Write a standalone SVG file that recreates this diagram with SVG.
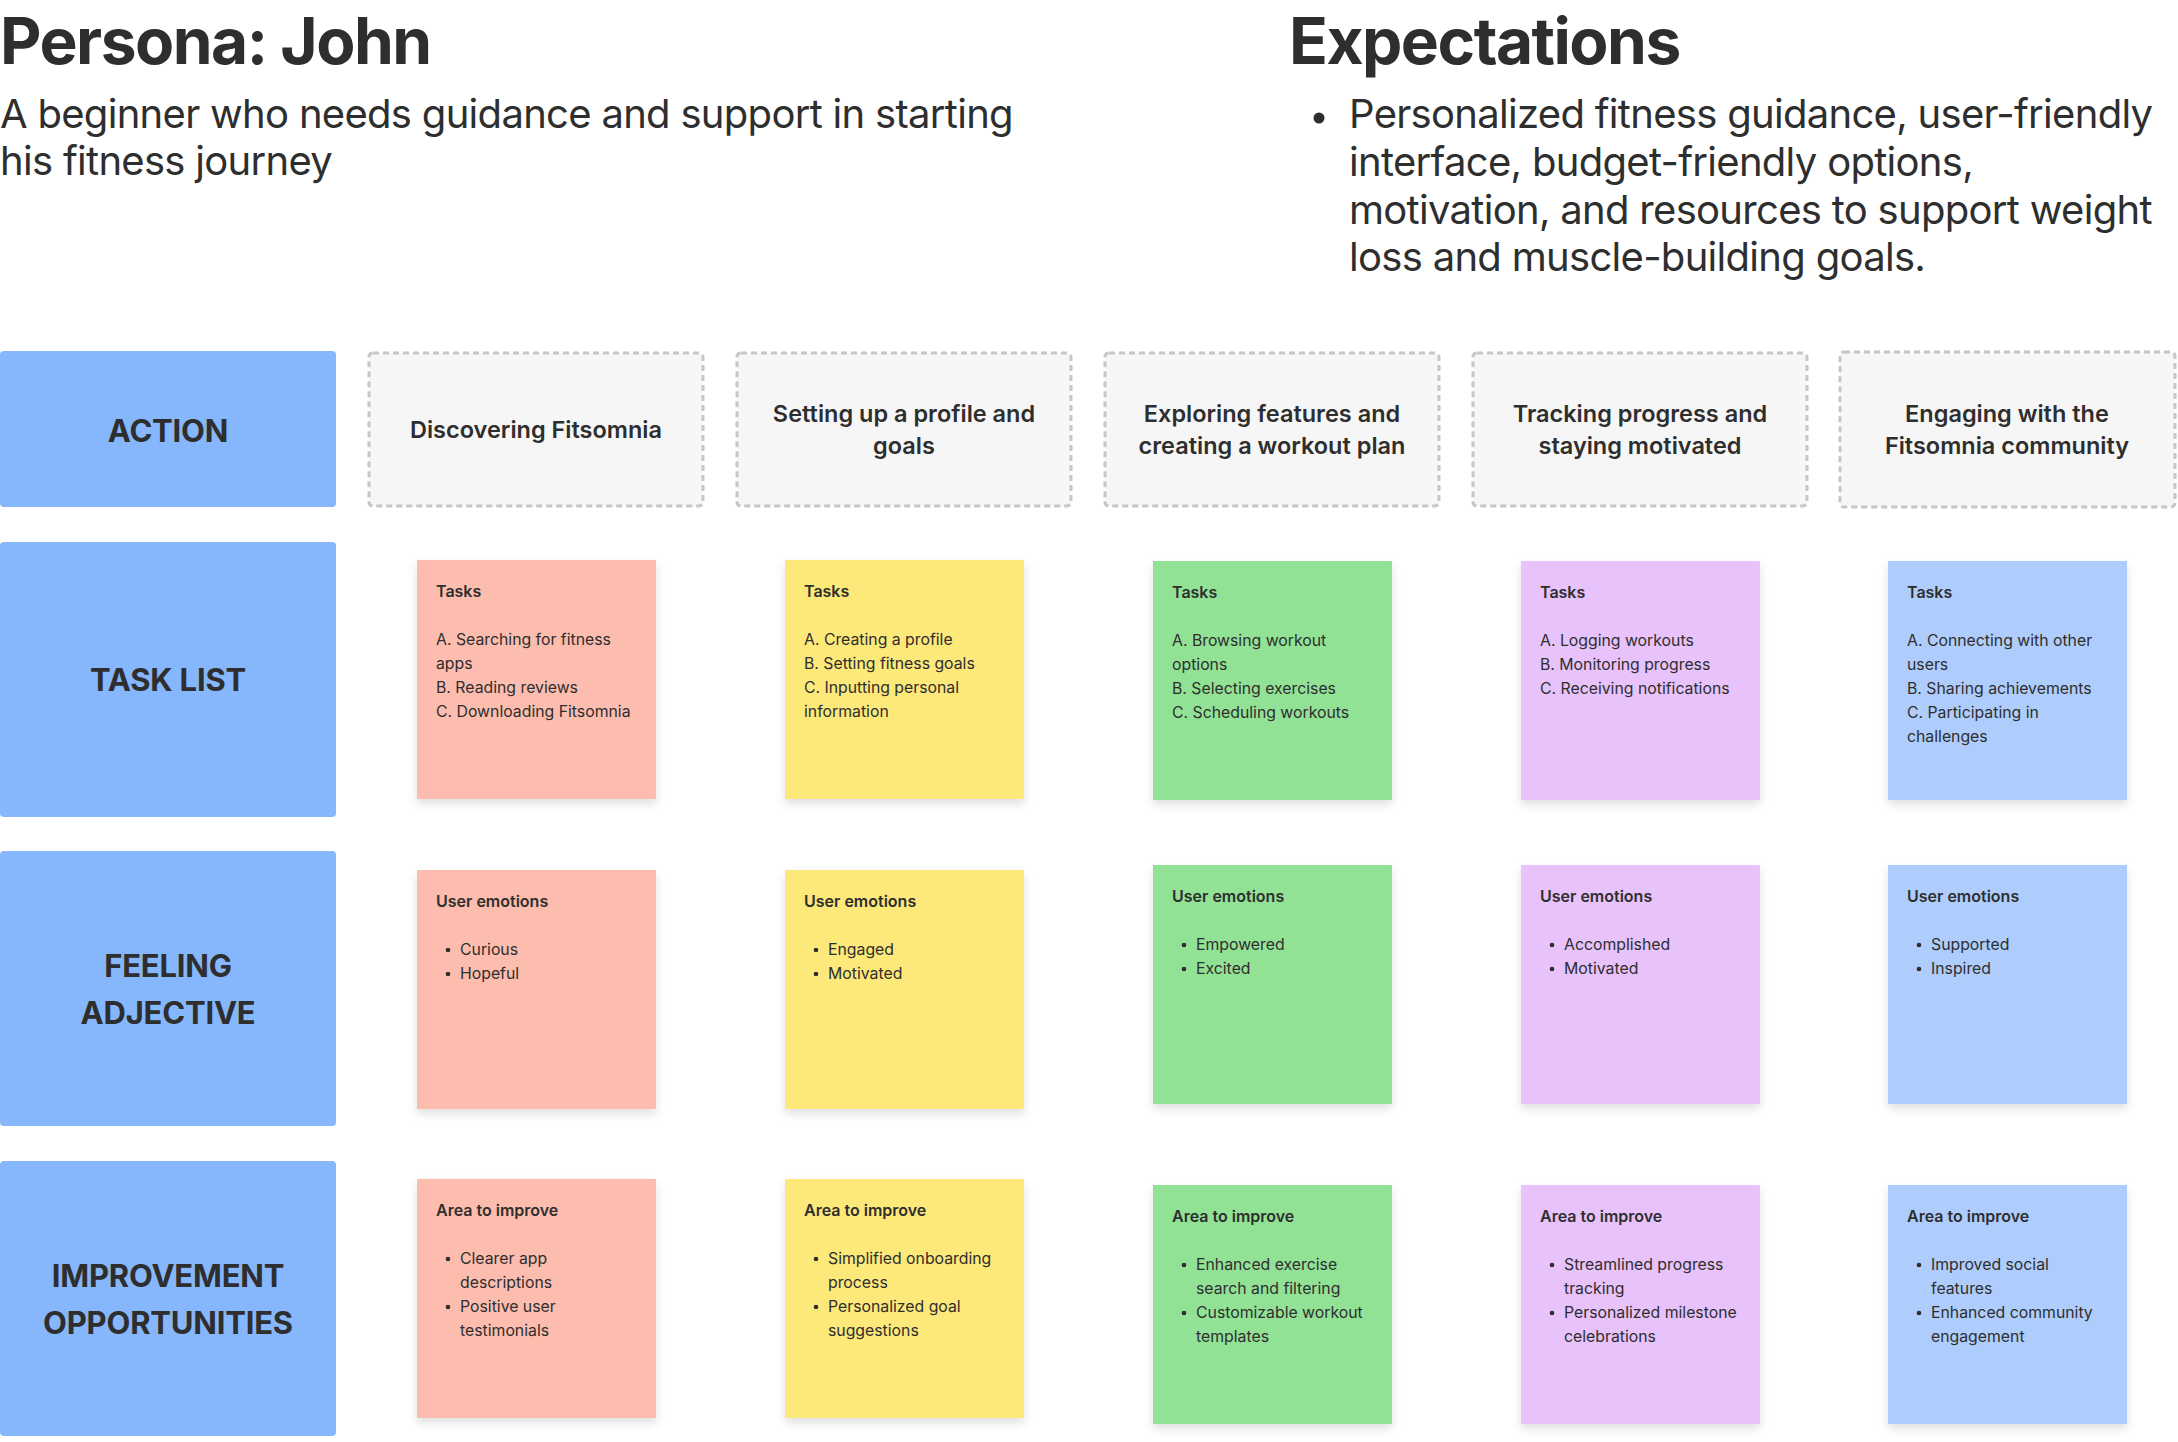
<svg xmlns="http://www.w3.org/2000/svg" width="2178" height="1442" viewBox="0 0 2178 1442">
<defs>
<filter id="sh" x="-10%" y="-10%" width="120%" height="130%">
<feDropShadow dx="0" dy="5" stdDeviation="5" flood-color="#000" flood-opacity="0.12"/>
</filter>
</defs>
<style>
text{font-family:Inter,"Noto Sans","Liberation Sans",sans-serif;fill:#2e2e2e}
.title{font-size:64px;font-weight:700;letter-spacing:-1.5px}
.sub{font-size:40px;font-weight:400;letter-spacing:-0.7px}
.lab{fill:#86b6fb}
.labt{font-size:31px;font-weight:700;text-anchor:middle;letter-spacing:-0.2px}
.act{fill:#f6f6f6;stroke:#c6c6c6;stroke-width:3;stroke-dasharray:6 4}
.actt{font-size:23.5px;font-weight:600;text-anchor:middle}
.h{font-size:16px;font-weight:600}
.i{font-size:15.8px;font-weight:400}
.c1{fill:#fdbdae}.c2{fill:#fde87a}.c3{fill:#92e296}.c4{fill:#e8c2fb}.c5{fill:#aecdfc}
</style>
<rect width="2178" height="1442" fill="#ffffff"/>
<g id="header">
<text class="title" x="0" y="64">Persona: John</text>
<text class="sub" x="0" y="128">A beginner who needs guidance and support in starting</text>
<text class="sub" x="0" y="175">his fitness journey</text>
<text class="title" x="1289" y="64">Expectations</text>
<circle cx="1319" cy="118" r="5.5" fill="#2e2e2e"/>
<text class="sub" x="1349" y="128">Personalized fitness guidance, user-friendly</text>
<text class="sub" x="1349" y="176">interface, budget-friendly options,</text>
<text class="sub" x="1349" y="224">motivation, and resources to support weight</text>
<text class="sub" x="1349" y="271">loss and muscle-building goals.</text>
</g>
<g id="connectors"></g>
<g id="label-action"><rect class="lab" x="0" y="351" width="336" height="156" rx="4"/><text class="labt" x="168" y="442">ACTION</text></g>
<g id="label-tasklist"><rect class="lab" x="0" y="542" width="336" height="275" rx="4"/><text class="labt" x="168" y="691">TASK LIST</text></g>
<g id="label-feeling"><rect class="lab" x="0" y="851" width="336" height="275" rx="4"/><text class="labt" x="168" y="977">FEELING</text><text class="labt" x="168" y="1024">ADJECTIVE</text></g>
<g id="label-improve"><rect class="lab" x="0" y="1161" width="336" height="275" rx="4"/><text class="labt" x="168" y="1287">IMPROVEMENT</text><text class="labt" x="168" y="1334">OPPORTUNITIES</text></g>

<g id="action-1"><rect class="act" x="369" y="353" width="334" height="153" rx="4"/><text class="actt" x="536" y="438">Discovering Fitsomnia</text></g>
<g id="action-2"><rect class="act" x="737" y="353" width="334" height="153" rx="4"/><text class="actt" x="904" y="422">Setting up a profile and</text><text class="actt" x="904" y="454">goals</text></g>
<g id="action-3"><rect class="act" x="1105" y="353" width="334" height="153" rx="4"/><text class="actt" x="1272" y="422">Exploring features and</text><text class="actt" x="1272" y="454">creating a workout plan</text></g>
<g id="action-4"><rect class="act" x="1473" y="353" width="334" height="153" rx="4"/><text class="actt" x="1640" y="422">Tracking progress and</text><text class="actt" x="1640" y="454">staying motivated</text></g>
<g id="action-5"><rect class="act" x="1840" y="352" width="335" height="155" rx="4"/><text class="actt" x="2007" y="422">Engaging with the</text><text class="actt" x="2007" y="454">Fitsomnia community</text></g>

<g id="tasks-1"><rect class="c1" x="417" y="560" width="239" height="239" filter="url(#sh)"/>
<text class="h" x="436" y="597">Tasks</text>
<text class="i" x="436" y="645">A. Searching for fitness</text><text class="i" x="436" y="669">apps</text><text class="i" x="436" y="693">B. Reading reviews</text><text class="i" x="436" y="717">C. Downloading Fitsomnia</text></g>
<g id="tasks-2"><rect class="c2" x="785" y="560" width="239" height="239" filter="url(#sh)"/>
<text class="h" x="804" y="597">Tasks</text>
<text class="i" x="804" y="645">A. Creating a profile</text><text class="i" x="804" y="669">B. Setting fitness goals</text><text class="i" x="804" y="693">C. Inputting personal</text><text class="i" x="804" y="717">information</text></g>
<g id="tasks-3"><rect class="c3" x="1153" y="561" width="239" height="239" filter="url(#sh)"/>
<text class="h" x="1172" y="598">Tasks</text>
<text class="i" x="1172" y="646">A. Browsing workout</text><text class="i" x="1172" y="670">options</text><text class="i" x="1172" y="694">B. Selecting exercises</text><text class="i" x="1172" y="718">C. Scheduling workouts</text></g>
<g id="tasks-4"><rect class="c4" x="1521" y="561" width="239" height="239" filter="url(#sh)"/>
<text class="h" x="1540" y="598">Tasks</text>
<text class="i" x="1540" y="646">A. Logging workouts</text><text class="i" x="1540" y="670">B. Monitoring progress</text><text class="i" x="1540" y="694">C. Receiving notifications</text></g>
<g id="tasks-5"><rect class="c5" x="1888" y="561" width="239" height="239" filter="url(#sh)"/>
<text class="h" x="1907" y="598">Tasks</text>
<text class="i" x="1907" y="646">A. Connecting with other</text><text class="i" x="1907" y="670">users</text><text class="i" x="1907" y="694">B. Sharing achievements</text><text class="i" x="1907" y="718">C. Participating in</text><text class="i" x="1907" y="742">challenges</text></g>

<g id="emotions-1"><rect class="c1" x="417" y="870" width="239" height="239" filter="url(#sh)"/>
<text class="h" x="436" y="907">User emotions</text>
<circle cx="448" cy="950" r="2.3" fill="#2e2e2e"/><text class="i" x="460" y="955">Curious</text>
<circle cx="448" cy="974" r="2.3" fill="#2e2e2e"/><text class="i" x="460" y="979">Hopeful</text></g>
<g id="emotions-2"><rect class="c2" x="785" y="870" width="239" height="239" filter="url(#sh)"/>
<text class="h" x="804" y="907">User emotions</text>
<circle cx="816" cy="950" r="2.3" fill="#2e2e2e"/><text class="i" x="828" y="955">Engaged</text>
<circle cx="816" cy="974" r="2.3" fill="#2e2e2e"/><text class="i" x="828" y="979">Motivated</text></g>
<g id="emotions-3"><rect class="c3" x="1153" y="865" width="239" height="239" filter="url(#sh)"/>
<text class="h" x="1172" y="902">User emotions</text>
<circle cx="1184" cy="945" r="2.3" fill="#2e2e2e"/><text class="i" x="1196" y="950">Empowered</text>
<circle cx="1184" cy="969" r="2.3" fill="#2e2e2e"/><text class="i" x="1196" y="974">Excited</text></g>
<g id="emotions-4"><rect class="c4" x="1521" y="865" width="239" height="239" filter="url(#sh)"/>
<text class="h" x="1540" y="902">User emotions</text>
<circle cx="1552" cy="945" r="2.3" fill="#2e2e2e"/><text class="i" x="1564" y="950">Accomplished</text>
<circle cx="1552" cy="969" r="2.3" fill="#2e2e2e"/><text class="i" x="1564" y="974">Motivated</text></g>
<g id="emotions-5"><rect class="c5" x="1888" y="865" width="239" height="239" filter="url(#sh)"/>
<text class="h" x="1907" y="902">User emotions</text>
<circle cx="1919" cy="945" r="2.3" fill="#2e2e2e"/><text class="i" x="1931" y="950">Supported</text>
<circle cx="1919" cy="969" r="2.3" fill="#2e2e2e"/><text class="i" x="1931" y="974">Inspired</text></g>

<g id="improve-1"><rect class="c1" x="417" y="1179" width="239" height="239" filter="url(#sh)"/>
<text class="h" x="436" y="1216">Area to improve</text>
<circle cx="448" cy="1259" r="2.3" fill="#2e2e2e"/><text class="i" x="460" y="1264">Clearer app</text><text class="i" x="460" y="1288">descriptions</text>
<circle cx="448" cy="1307" r="2.3" fill="#2e2e2e"/><text class="i" x="460" y="1312">Positive user</text><text class="i" x="460" y="1336">testimonials</text></g>
<g id="improve-2"><rect class="c2" x="785" y="1179" width="239" height="239" filter="url(#sh)"/>
<text class="h" x="804" y="1216">Area to improve</text>
<circle cx="816" cy="1259" r="2.3" fill="#2e2e2e"/><text class="i" x="828" y="1264">Simplified onboarding</text><text class="i" x="828" y="1288">process</text>
<circle cx="816" cy="1307" r="2.3" fill="#2e2e2e"/><text class="i" x="828" y="1312">Personalized goal</text><text class="i" x="828" y="1336">suggestions</text></g>
<g id="improve-3"><rect class="c3" x="1153" y="1185" width="239" height="239" filter="url(#sh)"/>
<text class="h" x="1172" y="1222">Area to improve</text>
<circle cx="1184" cy="1265" r="2.3" fill="#2e2e2e"/><text class="i" x="1196" y="1270">Enhanced exercise</text><text class="i" x="1196" y="1294">search and filtering</text>
<circle cx="1184" cy="1313" r="2.3" fill="#2e2e2e"/><text class="i" x="1196" y="1318">Customizable workout</text><text class="i" x="1196" y="1342">templates</text></g>
<g id="improve-4"><rect class="c4" x="1521" y="1185" width="239" height="239" filter="url(#sh)"/>
<text class="h" x="1540" y="1222">Area to improve</text>
<circle cx="1552" cy="1265" r="2.3" fill="#2e2e2e"/><text class="i" x="1564" y="1270">Streamlined progress</text><text class="i" x="1564" y="1294">tracking</text>
<circle cx="1552" cy="1313" r="2.3" fill="#2e2e2e"/><text class="i" x="1564" y="1318">Personalized milestone</text><text class="i" x="1564" y="1342">celebrations</text></g>
<g id="improve-5"><rect class="c5" x="1888" y="1185" width="239" height="239" filter="url(#sh)"/>
<text class="h" x="1907" y="1222">Area to improve</text>
<circle cx="1919" cy="1265" r="2.3" fill="#2e2e2e"/><text class="i" x="1931" y="1270">Improved social</text><text class="i" x="1931" y="1294">features</text>
<circle cx="1919" cy="1313" r="2.3" fill="#2e2e2e"/><text class="i" x="1931" y="1318">Enhanced community</text><text class="i" x="1931" y="1342">engagement</text></g>
</svg>
